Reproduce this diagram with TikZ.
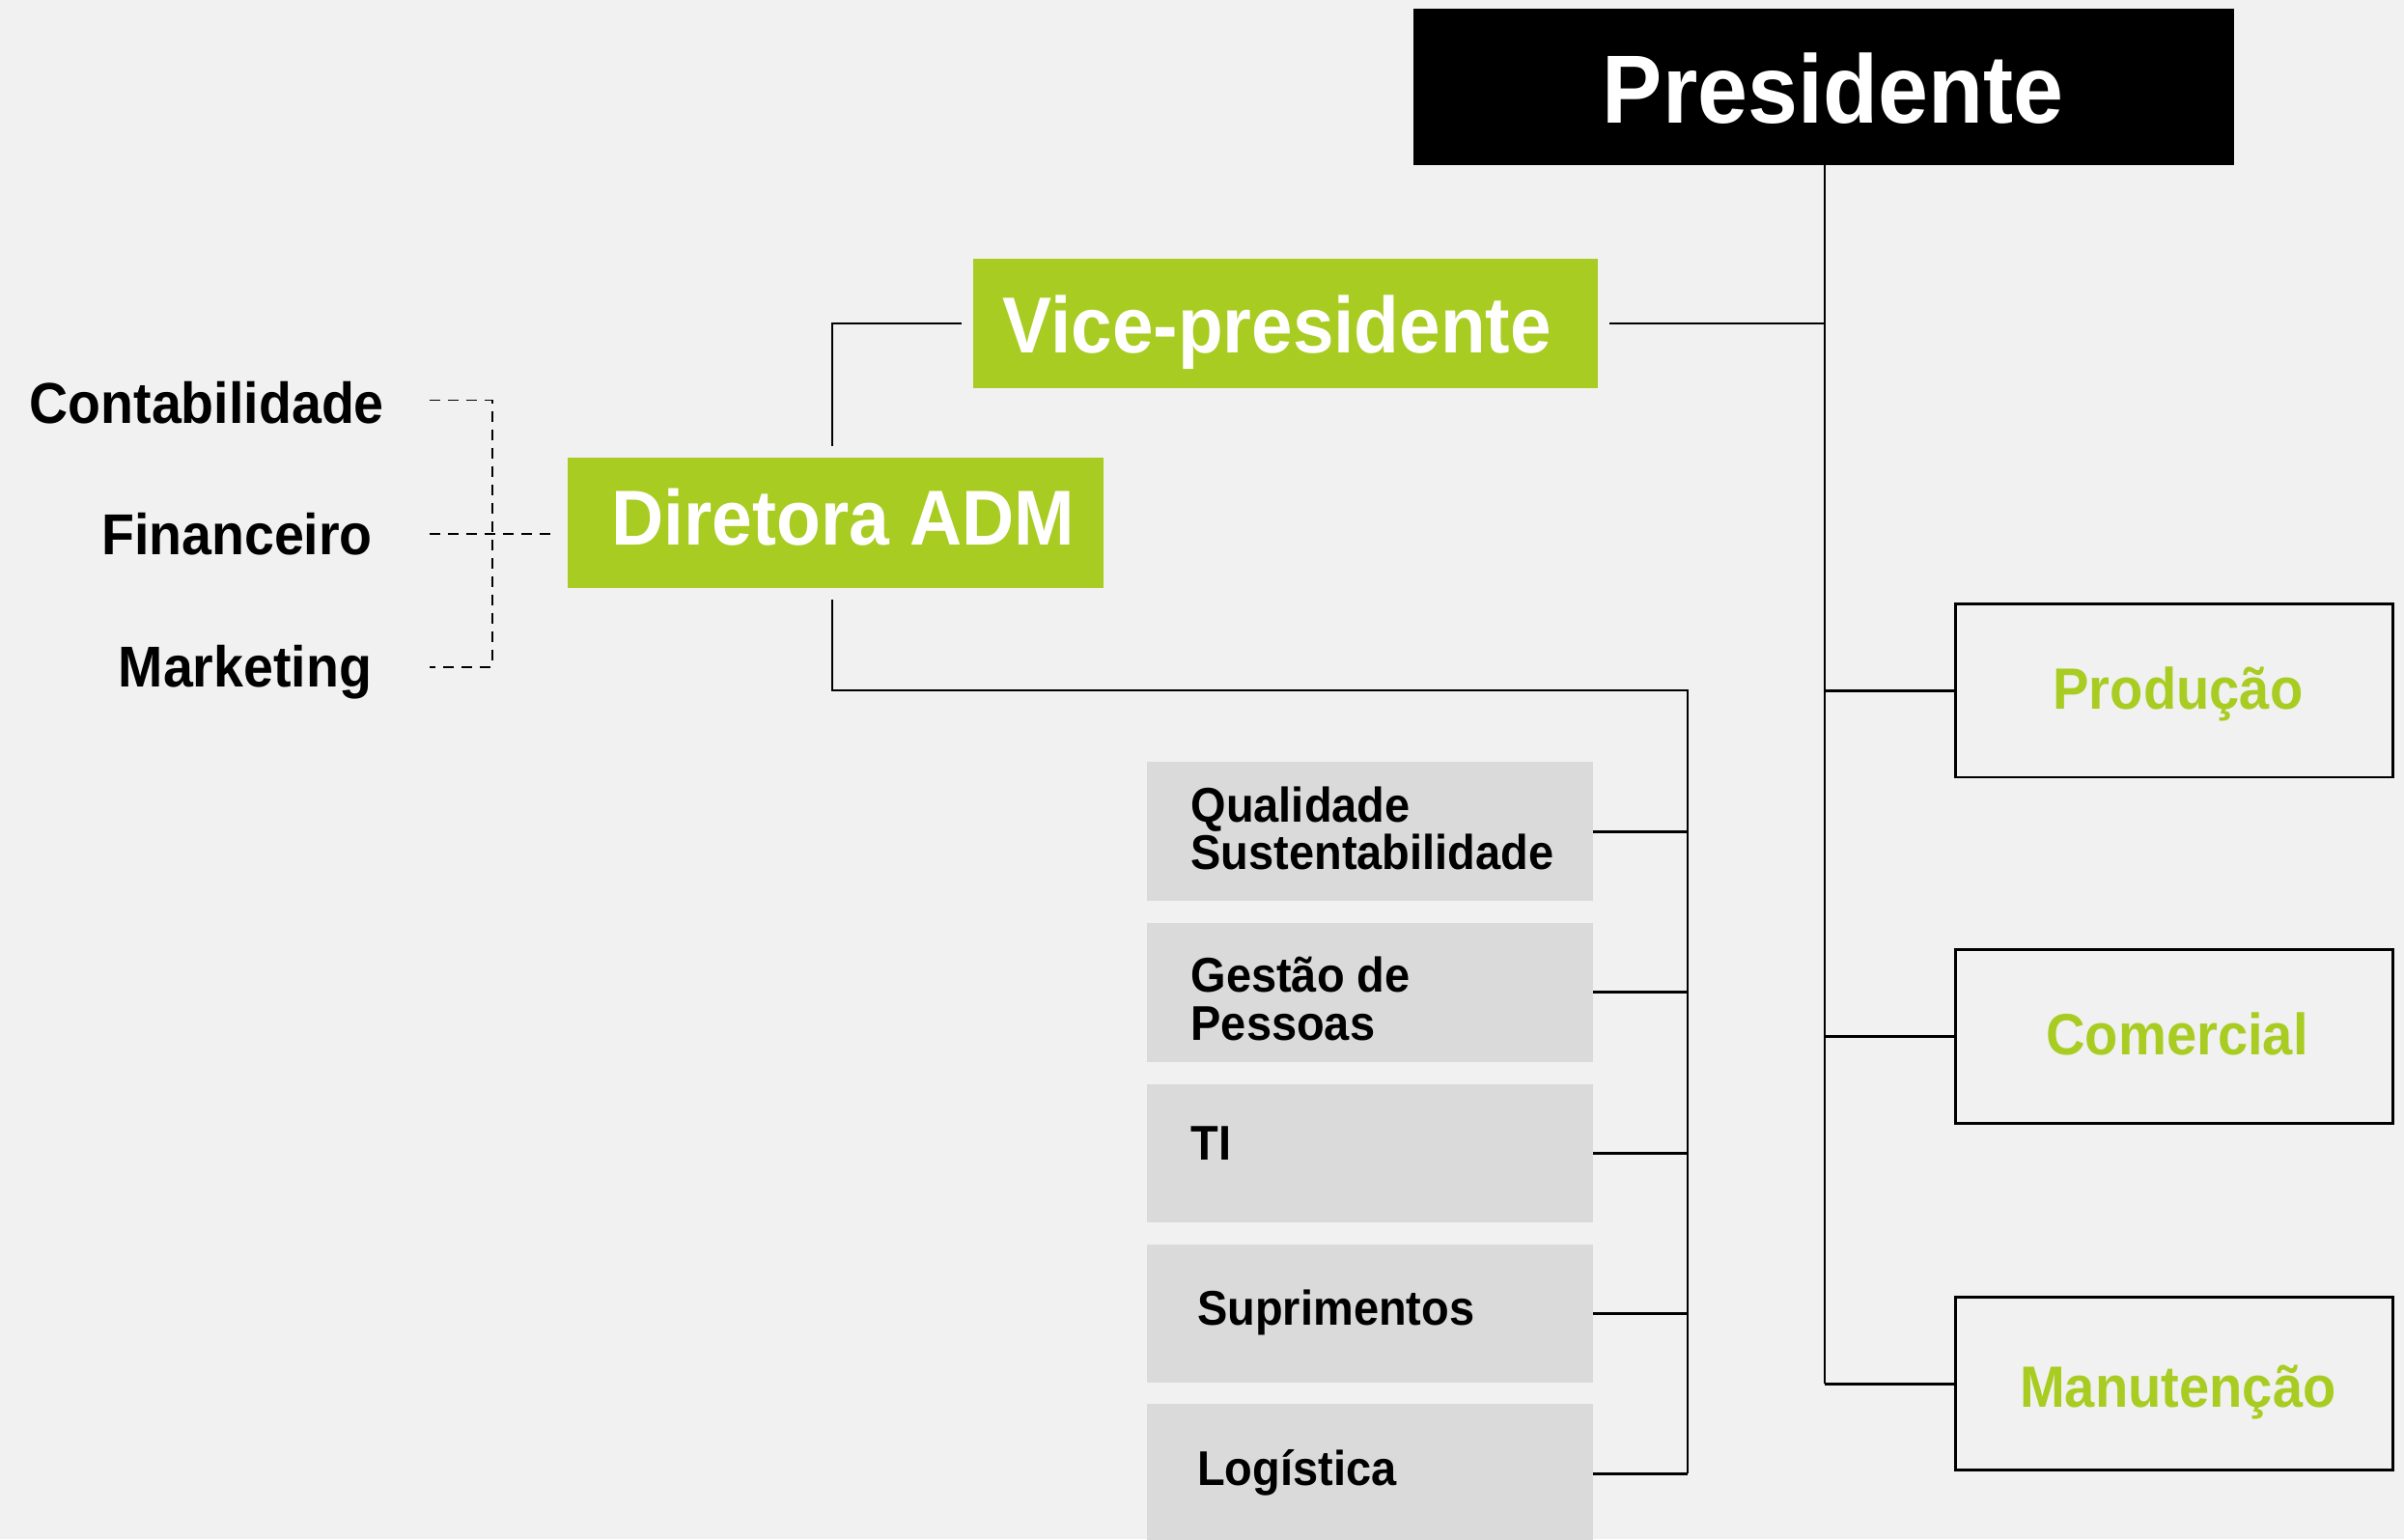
\documentclass[tikz,border=0pt]{standalone}
\usepackage{fontspec}
\newfontfamily\rb{Liberation Sans}[FakeStretch=0.93]
\definecolor{bgc}{HTML}{F0F1F0}
\definecolor{grn}{HTML}{A9CC22}
\definecolor{gry}{HTML}{DADADA}
\newcommand{\fs}[1]{\rb\bfseries\fontsize{#1}{#1}\selectfont}
\tikzset{
  box/.style={inner sep=0pt, outer sep=0pt, rectangle},
  txt/.style={inner sep=0pt, outer sep=0pt},
  conn/.style={line width=0.6pt, black},
  branch/.style={line width=0.9pt, black},
  dsh/.style={line width=0.6pt, black, dash pattern=on 3.5pt off 2.5pt},
}
\begin{document}
\begin{tikzpicture}[x=0.5pt, y=-0.5pt]
\fill[bgc] (0,0) rectangle (1568,1004);
\useasboundingbox (0,0) rectangle (1568,1004);

% main boxes
\node[box, fill=black, minimum width=267.5pt, minimum height=51pt] (pres) at (1189.5,56.7) {};
\node[box, fill=grn, minimum width=203.5pt, minimum height=42pt] (vp) at (838.5,211) {};
\node[box, fill=grn, minimum width=175pt, minimum height=42.5pt] (dir) at (545,341) {};

\node[txt, anchor=base, white, font=\fs{31.6}] (presT) at (1195.5,80.2) {Presidente};
\node[txt, anchor=base, white, font=\fs{25.9}] (vpT) at (833,230) {Vice-presidente};
\node[txt, anchor=base, white, font=\fs{25.4}] (dirT) at (550,355.4) {Diretora ADM};

% left labels
\node[txt, anchor=base east, font=\fs{18.8}] (cont) at (250.5,276) {Contabilidade};
\node[txt, anchor=base east, font=\fs{18.8}] (fin) at (243,362) {Financeiro};
\node[txt, anchor=base east, font=\fs{18.8}] (mkt) at (242.5,448) {Marketing};

% grey boxes
\foreach \n/\y in {g1/542.3, g2/647.2, g3/752.2, g4/856.7, g5/961}
  \node[box, fill=gry, minimum width=145.5pt, minimum height=45.25pt] (\n) at (893.4,\y) {};

\node[txt, anchor=base west, font=\fs{15.9}] (g1a) at (776.8,536) {Qualidade};
\node[txt, anchor=base west, font=\fs{15.9}] (g1b) at (776.8,567.3) {Sustentabilidade};
\node[txt, anchor=base west, font=\fs{15.9}] (g2a) at (776.8,647.2) {Gestão de};
\node[txt, anchor=base west, font=\fs{15.9}] (g2b) at (776.8,678.6) {Pessoas};
\node[txt, anchor=base west, font=\fs{15.9}] (g3a) at (776.8,756.3) {TI};
\node[txt, anchor=base west, font=\fs{15.9}] (g4a) at (781,864) {Suprimentos};
\node[txt, anchor=base west, font=\fs{15.9}] (g5a) at (781,969) {Logística};

% right boxes
\foreach \n/\y in {prod/450.4, com/676, man/902.5}
  \node[box, draw=black, line width=0.9pt, minimum width=142.75pt, minimum height=56.5pt] (\n) at (1418,\y) {};

\node[txt, anchor=base, grn, font=\fs{19}] (prodT) at (1420.6,462.6) {Produção};
\node[txt, anchor=base, grn, font=\fs{19}] (comT) at (1420,687.7) {Comercial};
\node[txt, anchor=base, grn, font=\fs{19}] (manT) at (1420.5,918) {Manutenção};

% connectors from Presidente
\coordinate (px) at (1190,107.7);
\draw[conn] (px) -- (px |- man.west);
\draw[branch] (px |- prod.west) -- (prod.west);
\draw[branch] (px |- com.west) -- (com.west);
\draw[branch] (px |- man.west) -- (man.west);

% VP to Presidente line
\coordinate (vpR) at (1050,211);
\draw[conn] (vpR) -- (px |- vpR);

% VP to Diretora
\coordinate (vpL) at (627,211);
\coordinate (dirTop) at (543,291);
\draw[conn] (vpL) -| (dirTop);

% Diretora to grey boxes
\coordinate (dirBot) at (543,391);
\coordinate (bus) at (1101,450);
\draw[conn] (dirBot) |- (bus) -- (bus |- g5.east);
\foreach \n in {g1,g2,g3,g4,g5}
  \draw[branch] (\n.east) -- (bus |- \n.east);

% dashed links to left labels
\coordinate (c1) at (280,261);
\coordinate (c2) at (280,435);
\coordinate (c3) at (280,348.4);
\coordinate (dj) at (321,261);
\coordinate (dk) at (359,348.4);
\draw[dsh] (c1) -- (dj) -- (dj |- c2) -- (c2);
\draw[dsh] (c3) -- (dk);
\end{tikzpicture}
\end{document}
